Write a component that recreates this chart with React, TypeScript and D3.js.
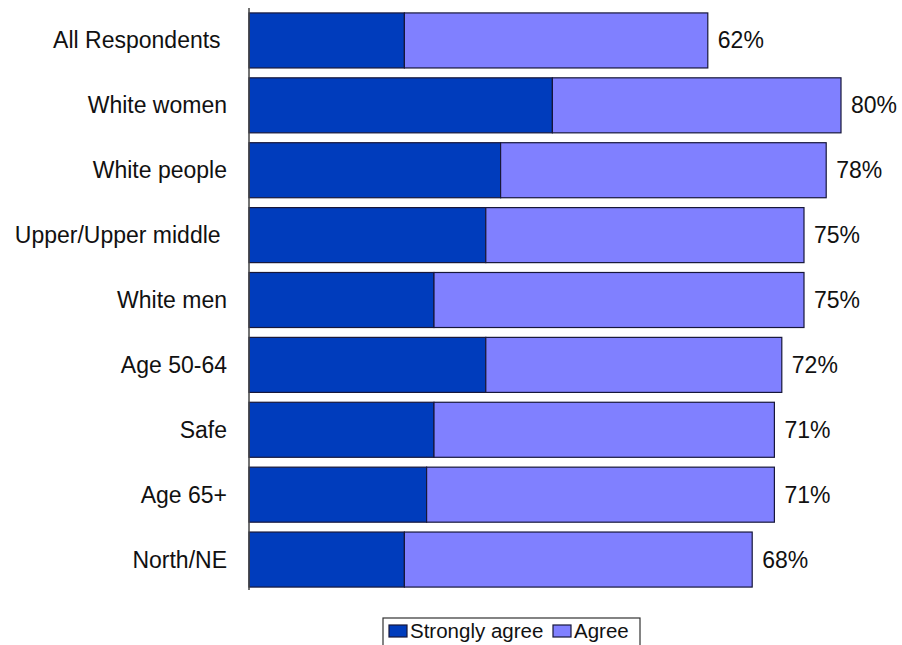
import React from "react";
import * as d3 from "d3";

const categories = [
  "All Respondents ",
  "White women",
  "White people",
  "Upper/Upper middle ",
  "White men",
  "Age 50-64",
  "Safe",
  "Age 65+",
  "North/NE",
];
const stronglyAgree = [21, 41, 34, 32, 25, 32, 25, 24, 21];
const totalAgree = [62, 80, 78, 75, 75, 72, 71, 71, 68];
const seriesNames = ["Strongly agree", "Agree"];

const W = 902;
const H = 645;
const DARK = "#003cbc";
const LIGHT = "#8080ff";
const EDGE = "#17173a";
const INK = "#111";
const FONT = "'Liberation Sans', Arial, sans-serif";

export default function App() {
  const x = d3.scaleLinear().domain([0, 100]).range([249, 989]);
  const y = d3
    .scaleBand<string>()
    .domain(categories)
    .range([8, 592])
    .paddingInner(0.152)
    .paddingOuter(0.076);

  const rows = categories.map((c, i) => ({
    c,
    strong: stronglyAgree[i],
    agree: totalAgree[i] - stronglyAgree[i],
    total: totalAgree[i],
  }));

  const bw = y.bandwidth();

  return (
    <svg
      width={W}
      height={H}
      style={{ position: "absolute", left: 0, top: 0, background: "#fff" }}
      fontFamily={FONT}
    >
      {rows.map((r) => {
        const y0 = y(r.c)!;
        return (
          <g key={r.c}>
            <rect
              x={x(0)}
              y={y0}
              width={x(r.strong) - x(0)}
              height={bw}
              fill={DARK}
              stroke={EDGE}
              strokeWidth={1.2}
            />
            <rect
              x={x(r.strong)}
              y={y0}
              width={x(r.strong + r.agree) - x(r.strong)}
              height={bw}
              fill={LIGHT}
              stroke={EDGE}
              strokeWidth={1.2}
            />
            <text
              x={x(0) - 22}
              y={y0 + bw / 2}
              dy="0.35em"
              textAnchor="end"
              fontSize={23}
              fill={INK}
              style={{ whiteSpace: "pre" }}
            >
              {r.c}
            </text>
            <text
              x={x(r.total) + 10}
              y={y0 + bw / 2}
              dy="0.35em"
              fontSize={23}
              fill={INK}
            >
              {r.total}%
            </text>
          </g>
        );
      })}
      <line
        x1={x(0)}
        x2={x(0)}
        y1={8}
        y2={590}
        stroke="#444"
        strokeWidth={1.5}
      />
      {/* legend */}
      <g>
        <rect
          x={383}
          y={618}
          width={257}
          height={32}
          fill="#fff"
          stroke="#333"
          strokeWidth={1.2}
        />
        {seriesNames.map((s, i) => {
          const lx = i === 0 ? 389 : 553;
          return (
            <g key={s}>
              <rect
                x={lx}
                y={625}
                width={18}
                height={12}
                fill={i === 0 ? DARK : LIGHT}
                stroke={EDGE}
                strokeWidth={1.2}
              />
              <text
                x={lx + 21}
                y={631}
                dy="0.35em"
                fontSize={20.5}
                fill={INK}
              >
                {s}
              </text>
            </g>
          );
        })}
      </g>
    </svg>
  );
}
